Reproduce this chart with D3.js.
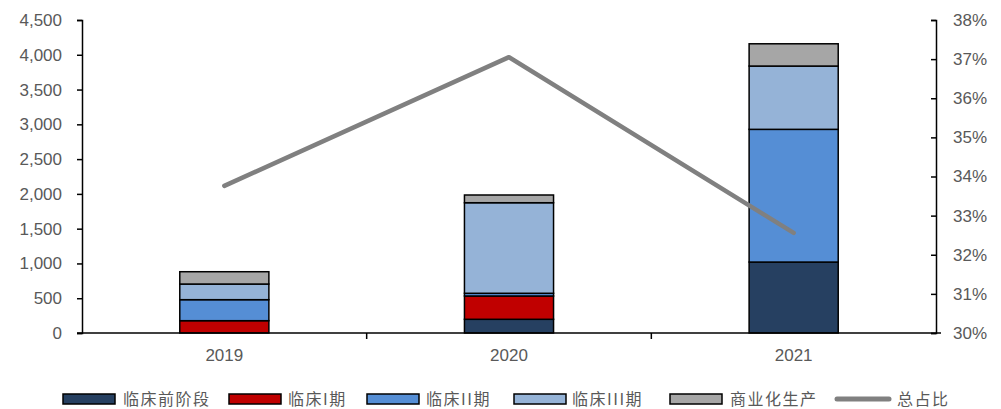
<!DOCTYPE html>
<html>
<head>
<meta charset="utf-8">
<script src="https://cdn.jsdelivr.net/npm/d3@7"></script>
<style>
  html, body { margin: 0; padding: 0; background: #fff; }
  svg { display: block; }
  .tick text { font-family: "Liberation Sans", Arial, sans-serif; font-size: 17px; fill: #595959; }
  .legend text { font-family: "Noto Sans CJK SC", sans-serif; font-size: 16px; fill: #595959; letter-spacing: 1.5px; }
</style>
</head>
<body>
<svg id="chart" width="1001" height="409"></svg>
<script>
// Years on the category axis
const years = ["2019", "2020", "2021"];

// Stacked series (values per year)
const preclinical = [0, 197, 1020];
const phase1 = [177, 335, 0];
const phase2 = [302, 39, 1908];
const phase3 = [225, 1302, 910];
const commercial = [177, 111, 320];

// Share line on the right axis
const totalShare = [0.3376, 0.3705, 0.3256];

const seriesNames = ["临床前阶段", "临床I期", "临床II期", "临床III期", "商业化生产"];
const seriesColors = ["#264061", "#C00000", "#558ED5", "#95B3D7", "#A6A6A6"];
const lineName = "总占比";
const lineColor = "#808080";

const leftTicks = [0, 500, 1000, 1500, 2000, 2500, 3000, 3500, 4000, 4500];
const rightTicks = [0.30, 0.31, 0.32, 0.33, 0.34, 0.35, 0.36, 0.37, 0.38];

const svg = d3.select("#chart");
const plot = { left: 82, right: 936, top: 20, bottom: 333 };

const barFrac = 0.313;
const x = d3.scaleBand()
  .domain(years)
  .range([plot.left, plot.right])
  .paddingInner(1 - barFrac)
  .paddingOuter((1 - barFrac) / 2);

const y = d3.scaleLinear().domain([0, 4500]).range([plot.bottom, plot.top]);
const y2 = d3.scaleLinear().domain([0.30, 0.38]).range([plot.bottom, plot.top]);

// Build stacked data
const rows = years.map((yr, i) => ({
  year: yr,
  s0: preclinical[i], s1: phase1[i], s2: phase2[i], s3: phase3[i], s4: commercial[i]
}));
const keys = ["s0", "s1", "s2", "s3", "s4"];
const stacked = d3.stack().keys(keys)(rows);

// Left axis
const gLeft = svg.append("g")
  .attr("transform", `translate(${plot.left},0)`)
  .call(d3.axisLeft(y).tickValues(leftTicks).tickSize(5).tickPadding(15).tickFormat(d3.format(",")));
gLeft.selectAll("path, line").attr("stroke", "#000").attr("stroke-width", 1.5);

// Right axis (ticks pointing inward)
const gRight = svg.append("g")
  .attr("transform", `translate(${plot.right},0)`)
  .call(d3.axisRight(y2).tickValues(rightTicks).tickSize(-5).tickPadding(17).tickFormat(d3.format(".0%")));
gRight.selectAll("path, line").attr("stroke", "#000").attr("stroke-width", 1.5);
gRight.selectAll(".tick text").attr("x", 17);

// Bars
const layers = svg.append("g").selectAll("g")
  .data(stacked)
  .join("g")
  .attr("fill", (d, i) => seriesColors[i]);

layers.selectAll("rect")
  .data(d => d.filter(p => p[1] - p[0] > 0))
  .join("rect")
  .attr("x", d => x(d.data.year))
  .attr("width", x.bandwidth())
  .attr("y", d => y(d[1]))
  .attr("height", d => y(d[0]) - y(d[1]))
  .attr("stroke", "#000")
  .attr("stroke-width", 1.5);

// Bottom axis with ticks at category boundaries
const gBottom = svg.append("g").attr("transform", `translate(0,${plot.bottom})`);
gBottom.append("line")
  .attr("x1", plot.left - 5).attr("x2", plot.right + 5)
  .attr("stroke", "#000").attr("stroke-width", 1.5);
const step = x.step();
const boundaries = d3.range(years.length + 1).map(k => plot.left + k * (plot.right - plot.left) / years.length);
gBottom.selectAll(".bt")
  .data(boundaries.slice(1, -1))
  .join("line")
  .attr("x1", d => d).attr("x2", d => d)
  .attr("y1", 0).attr("y2", 6)
  .attr("stroke", "#000").attr("stroke-width", 1.5);
gBottom.selectAll("text")
  .data(years)
  .join("text")
  .attr("x", d => x(d) + x.bandwidth() / 2)
  .attr("y", 28)
  .attr("text-anchor", "middle")
  .style("font-family", "'Liberation Sans', Arial, sans-serif")
  .style("font-size", "17px")
  .attr("fill", "#595959")
  .text(d => d);

// Share line
const line = d3.line()
  .x((d, i) => x(years[i]) + x.bandwidth() / 2)
  .y(d => y2(d));
svg.append("path")
  .datum(totalShare)
  .attr("d", line)
  .attr("fill", "none")
  .attr("stroke", lineColor)
  .attr("stroke-width", 4.5)
  .attr("stroke-linecap", "round")
  .attr("stroke-linejoin", "round");

// Legend
const legendY = 399;
const swatchX = [63, 229, 367, 514, 670];
const textX = [123, 288, 426, 572, 730];
const legend = svg.append("g").attr("class", "legend");
seriesNames.forEach((name, i) => {
  legend.append("rect")
    .attr("x", swatchX[i]).attr("y", legendY - 5)
    .attr("width", 52).attr("height", 10)
    .attr("fill", seriesColors[i])
    .attr("stroke", "#000").attr("stroke-width", 1.5);
  legend.append("text")
    .attr("x", textX[i]).attr("y", legendY)
    .attr("dy", "0.35em")
    .text(name);
});
legend.append("line")
  .attr("x1", 837).attr("x2", 889)
  .attr("y1", legendY).attr("y2", legendY)
  .attr("stroke", lineColor).attr("stroke-width", 5)
  .attr("stroke-linecap", "round");
legend.append("text")
  .attr("x", 897).attr("y", legendY)
  .attr("dy", "0.35em")
  .text(lineName);
</script>
</body>
</html>
